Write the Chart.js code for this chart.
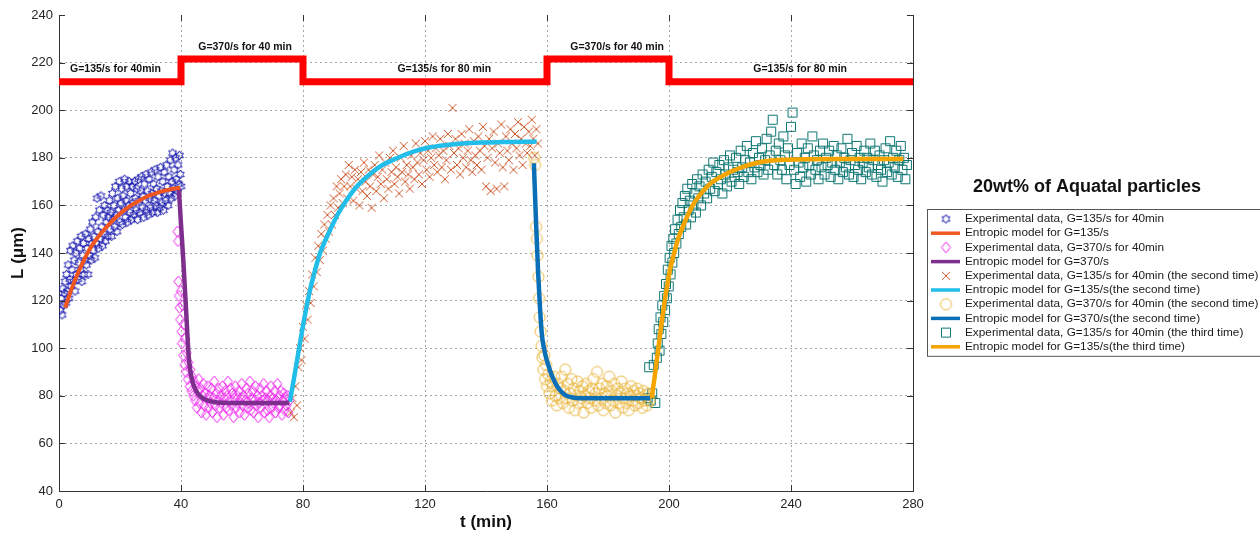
<!DOCTYPE html>
<html>
<head>
<meta charset="utf-8">
<script src="https://cdn.jsdelivr.net/npm/chart.js@4/dist/chart.umd.min.js"></script>
<style>
  html, body { margin: 0; padding: 0; background: #fff; overflow: hidden; }
</style>
</head>
<body>
<canvas id="chart" width="1260" height="539"></canvas>
<script>
// ---- data: [t (min), L (um)] ----
const expBlue = [
  [0.5,116],[0.75,121],[1,114],[1.25,125],[1.5,118],[1.75,123],[2,128],[2.25,119],[2.5,131],[2.75,124],
  [3,135],[3.25,121],[3.5,129],[3.75,141],[4,126],[4.25,133],[4.5,143],[4.75,128],[5,137],[5.25,124],
  [5.5,140],[5.75,131],[6,145],[6.25,129],[6.5,136],[6.75,142],[7,133],[7.25,147],[7.5,128],[7.75,139],
  [8,144],[8.25,131],[8.5,137],[8.75,148],[9,135],[9.25,142],[9.5,131],[9.75,146],[10,139],[10.25,150],
  [10.5,137],[10.75,144],[11,153],[11.25,141],[11.5,147],[11.75,138],[12,155],[12.25,144],[12.5,163],[12.75,149],
  [13,142],[13.25,158],[13.5,146],[13.75,164],[14,151],[14.25,143],[14.5,156],[14.75,148],[15,160],[15.25,145],
  [15.5,153],[15.75,158],[16,147],[16.25,155],[16.5,162],[16.75,150],[17,157],[17.25,147],[17.5,165],[17.75,154],
  [18,160],[18.25,151],[18.5,168],[18.75,156],[19,149],[19.25,163],[19.5,158],[19.75,170],[20,153],[20.25,161],
  [20.5,167],[20.75,152],[21,164],[21.25,158],[21.5,171],[21.75,155],[22,162],[22.25,168],[22.5,153],[22.75,160],
  [23,170],[23.25,157],[23.5,165],[23.75,154],[24,168],[24.25,161],[24.5,156],[24.75,170],[25,163],[25.25,158],
  [25.5,167],[25.75,154],[26,171],[26.25,162],[26.5,157],[26.75,166],[27,172],[27.25,159],[27.5,164],[27.75,155],
  [28,169],[28.25,162],[28.5,173],[28.75,158],[29,166],[29.25,156],[29.5,171],[29.75,163],[30,159],[30.25,174],
  [30.5,165],[30.75,157],[31,169],[31.25,162],[31.5,175],[31.75,160],[32,167],[32.25,157],[32.5,172],[32.75,164],
  [33,159],[33.25,176],[33.5,166],[33.75,161],[34,170],[34.25,158],[34.5,174],[34.75,165],[35,162],[35.25,177],
  [35.5,168],[35.75,160],[36,172],[36.25,165],[36.5,179],[36.75,163],[37,170],[37.25,182],[37.5,167],[37.75,175],
  [38,164],[38.25,180],[38.5,171],[38.75,166],[39,177],[39.25,169],[39.5,181],[39.75,173],[40,168]
];
const modelBlueT = [2, 4, 6, 8, 10, 12, 14, 16, 18, 20, 22, 24, 26, 28, 30, 32, 34, 36, 38, 39.7];
const modelBlueL = [117, 124.5, 131, 136.5, 141.5, 145.3, 148.6, 151.5, 154.2, 156.5, 158.5, 160.3, 161.8, 163.2, 164.3, 165.2, 166, 166.6, 167.1, 167.4];

const expPink = [
  [38.8,149],[39,145],[39.1,128],[39.3,122],[39.5,117],[39.7,112],[39.9,124],[40.1,107],[40.3,102],[40.5,118],
  [40.7,97],[40.9,110],[41.1,93],[41.3,104],[41.6,90],[41.9,98],[42.2,87],[42.5,94],[42.8,84],[43.1,91],
  [43.4,82],[43.7,88],[44,80],[44.3,86],[44.6,78],[44.9,84],[45.2,75],[45.5,82],[45.8,87],[46.1,77],
  [46.4,83],[46.7,73],[47,80],[47.3,85],[47.6,76],[47.9,81],[48.2,72],[48.5,79],[48.8,84],[49.1,75],
  [49.4,80],[49.7,77],[50,83],[50.3,73],[50.6,79],[50.9,86],[51.2,76],[51.5,81],[51.8,71],[52.1,78],
  [52.4,83],[52.7,75],[53,80],[53.3,77],[53.6,84],[53.9,72],[54.2,79],[54.5,82],[54.8,75],[55.1,80],
  [55.4,86],[55.7,74],[56,78],[56.3,83],[56.6,76],[56.9,81],[57.2,71],[57.5,79],[57.8,84],[58.1,75],
  [58.4,80],[58.7,77],[59,82],[59.3,73],[59.6,79],[59.9,85],[60.2,76],[60.5,80],[60.8,72],[61.1,78],
  [61.4,83],[61.7,75],[62,81],[62.3,77],[62.6,86],[62.9,74],[63.2,79],[63.5,82],[63.8,73],[64.1,78],
  [64.4,84],[64.7,76],[65,80],[65.3,71],[65.6,77],[65.9,83],[66.2,75],[66.5,80],[66.8,78],[67.1,85],
  [67.4,73],[67.7,79],[68,82],[68.3,74],[68.6,78],[68.9,71],[69.2,80],[69.5,84],[69.8,75],[70.1,79],
  [70.4,77],[70.7,82],[71,73],[71.3,78],[71.6,85],[71.9,75],[72.2,80],[72.5,76],[72.8,82],[73.1,72],
  [73.4,78],[73.7,81],[74,74],[74.3,79],[74.6,76],[74.9,80],[75.2,73],[75.5,78]
];
const modelPinkT = [39.3, 40, 40.8, 41.5, 42, 42.5, 43, 43.5, 44, 45, 46, 47, 48, 50, 52, 56, 60, 66, 70, 75.5];
const modelPinkL = [167, 152, 136, 120, 108, 97, 91, 87.5, 85, 82, 80.2, 79.1, 78.4, 77.6, 77.2, 77, 77, 77, 77, 77];

const expBrown = [
  [76,73],[76.5,79],[77,71],[77.5,84],[78,76],[78.5,92],[79,100],[79.5,95],[80,109],[80.5,104],
  [81,118],[81.5,112],[82,124],[82.5,119],[83,131],[83.5,126],[84,138],[84.5,132],[85,143],[85.5,137],
  [86,148],[86.5,141],[87,152],[87.5,146],[88,156],[88.5,149],[89,160],[89.5,152],[90,163],[90.5,156],
  [91,168],[91.5,159],[92,165],[92.5,171],[93,161],[93.5,168],[94,173],[94.5,163],[95,177],[95.5,168],
  [96,172],[96.5,162],[97,175],[97.5,167],[98,171],[98.5,160],[99,174],[99.5,166],[100,178],[100.5,170],
  [101,164],[101.5,175],[102,168],[102.5,159],[103,173],[103.5,177],[104,166],[104.5,172],[105,181],[105.5,169],
  [106,175],[106.5,163],[107,178],[107.5,171],[108,167],[108.5,180],[109,174],[109.5,183],[110,169],[110.5,176],
  [111,172],[111.5,165],[112,180],[112.5,174],[113,185],[113.5,170],[114,177],[114.5,173],[115,167],[115.5,181],
  [116,176],[116.5,171],[117,186],[117.5,178],[118,173],[118.5,182],[119,169],[119.5,179],[120,187],[120.5,175],
  [121,183],[121.5,172],[122,180],[122.5,189],[123,177],[123.5,184],[124,174],[124.5,181],[125,188],[125.5,176],
  [126,183],[126.5,171],[127,179],[127.5,190],[128,185],[128.5,175],[129,201],[129.5,182],[130,188],[130.5,177],
  [131,184],[131.5,173],[132,190],[132.5,180],[133,186],[133.5,176],[134,183],[134.5,192],[135,179],[135.5,174],
  [136,187],[136.5,181],[137,177],[137.5,189],[138,183],[138.5,175],[139,193],[139.5,185],[140,168],[140.5,180],
  [141,188],[141.5,166],[142,184],[142.5,191],[143,178],[143.5,167],[144,186],[144.5,182],[145,194],[145.5,176],
  [146,168],[146.5,189],[147,183],[147.5,179],[148,192],[148.5,186],[149,175],[149.5,190],[150,184],[150.5,195],
  [151,181],[151.5,188],[152,177],[152.5,193],[153,186],[153.5,182],[154,191],[154.5,185],[155,196],[155.5,188],
  [156,181],[156.5,192],[157,186]
];
const modelCyanT = [75.7, 77, 79, 80.5, 82.3, 84, 85.6, 88.9, 91.5, 94.3, 97, 99.8, 105.2, 110.7, 116.2, 121.6, 127.1, 132, 138, 145, 152, 156.6];
const modelCyanL = [77.5, 87, 102, 113, 124.5, 133, 140, 149.7, 156.5, 162.3, 167, 170.7, 176.3, 179.8, 182.6, 184.4, 185.4, 186, 186.4, 186.6, 186.7, 186.8];

const expGold = [
  [155.8,180],[156.1,177],[156.4,151],[156.7,146],[156.9,139],[157.2,130],[157.4,121],[157.6,113],[157.9,107],[158.2,101],
  [158.5,96],[158.8,91],[159.1,97],[159.4,87],[159.7,93],[160,84],[160.4,89],[160.8,81],[161.2,86],[161.6,78],
  [162,84],[162.4,88],[162.8,80],[163.2,76],[163.6,85],[164,79],[164.4,83],[164.8,88],[165.2,77],[165.6,82],
  [166,91],[166.4,79],[166.8,85],[167.2,75],[167.6,81],[168,87],[168.4,78],[168.8,83],[169.2,74],[169.6,80],
  [170,86],[170.4,77],[170.8,82],[171.2,79],[171.6,84],[172,73],[172.4,80],[172.8,85],[173.2,77],[173.6,82],
  [174,79],[174.4,75],[174.8,83],[175.2,87],[175.6,78],[176,81],[176.4,90],[176.8,76],[177.2,83],[177.6,79],
  [178,85],[178.4,74],[178.8,81],[179.2,77],[179.6,84],[180,80],[180.4,88],[180.8,76],[181.2,82],[181.6,78],
  [182,85],[182.4,73],[182.8,80],[183.2,83],[183.6,77],[184,81],[184.4,86],[184.8,75],[185.2,79],[185.6,83],
  [186,77],[186.4,81],[186.8,74],[187.2,80],[187.6,84],[188,78],[188.4,82],[188.8,76],[189.2,80],[189.6,83],
  [190,77],[190.4,81],[190.8,79],[191.2,75],[191.6,82],[192,78],[192.4,80],[192.8,76],[193.2,81],[193.6,78]
];
const modelNavyT = [155.7, 156.4, 157.1, 157.7, 158.3, 159, 159.7, 160.4, 161.3, 162.3, 163.3, 164.5, 166, 168, 171, 176, 182, 188, 193.8];
const modelNavyL = [177.7, 153, 131.5, 117, 106, 100, 96, 93, 89.5, 86.5, 84, 82, 80.3, 79.4, 79, 79, 79, 79, 79];

const expTeal = [
  [193,79],[193.5,92],[194,78],[194.5,81],[195,93],[195.5,77],[196,96],[196.3,102],[196.6,108],[196.9,99],
  [197.2,113],[197.5,106],[197.8,118],[198.1,111],[198.4,122],[198.7,116],[199,127],[199.3,121],[199.6,133],[199.9,126],
  [200.2,138],[200.5,131],[200.8,143],[201.1,136],[201.4,146],[201.7,140],[202,150],[202.4,144],[202.8,154],[203.2,148],
  [203.6,158],[204,151],[204.4,161],[204.8,155],[205.2,164],[205.6,152],[206,167],[206.4,158],[206.8,162],[207.2,155],
  [207.6,169],[208,160],[208.4,165],[208.8,157],[209.2,171],[209.6,163],[210,168],[210.5,160],[211,173],[211.5,165],
  [212,170],[212.5,163],[213,175],[213.5,167],[214,172],[214.5,178],[215,166],[215.5,174],[216,169],[216.5,177],
  [217,171],[217.5,165],[218,179],[218.5,173],[219,168],[219.5,176],[220,181],[220.5,170],[221,175],[221.5,172],
  [222,180],[222.5,174],[223,169],[223.5,183],[224,176],[224.5,172],[225,179],[225.5,185],[226,174],[226.5,178],
  [227,171],[227.5,182],[228,176],[228.5,187],[229,174],[229.5,180],[230,177],[230.5,184],[231,173],[231.5,179],
  [232,188],[232.5,175],[233,181],[233.5,191],[234,196],[234.5,177],[235,183],[235.5,173],[236,186],[236.5,179],
  [237,175],[237.5,189],[238,181],[238.5,171],[239,184],[239.5,177],[240,193],[240.5,199],[241,175],[241.5,169],
  [242,182],[242.5,178],[243,172],[243.5,186],[244,176],[244.5,180],[245,170],[245.5,184],[246,177],[246.5,173],
  [247,189],[247.5,181],[248,175],[248.5,179],[249,171],[249.5,183],[250,176],[250.5,186],[251,173],[251.5,180],
  [252,177],[252.5,183],[253,172],[253.5,178],[254,185],[254.5,175],[255,181],[255.5,171],[256,178],[256.5,184],
  [257,174],[257.5,180],[258,176],[258.5,188],[259,173],[259.5,179],[260,182],[260.5,172],[261,177],[261.5,185],
  [262,175],[262.5,180],[263,171],[263.5,178],[264,183],[264.5,174],[265,180],[265.5,176],[266,186],[266.5,173],
  [267,179],[267.5,183],[268,172],[268.5,177],[269,181],[269.5,175],[270,170],[270.5,179],[271,184],[271.5,174],
  [272,178],[272.5,187],[273,173],[273.5,180],[274,176],[274.5,183],[275,172],[275.5,179],[276,185],[276.5,175],
  [277,180],[277.5,171],[278,177]
];
const modelGoldT = [194.3, 195.3, 196.5, 197.5, 198.5, 199.5, 200.5, 201.7, 203, 204.5, 206, 208, 210, 212, 214, 216.7, 219.5, 222.2, 225, 227.6, 230, 233, 238.6, 245, 255, 265, 276.8];
const modelGoldL = [79, 88, 100, 110, 119, 127, 134, 140, 146, 151, 155.5, 160.5, 164.2, 167.2, 169.6, 171.8, 173.7, 175.2, 176.5, 177.5, 178.2, 178.8, 179.2, 179.4, 179.5, 179.5, 179.5];

// shear rate protocol (red step line) and its labels
const stepT = [0, 40, 80, 160, 200, 280];
const stepL = [212, 221.5, 212, 221.5, 212, 212];
const stepText = ['G=135/s for 40min', 'G=370/s for 40 min', 'G=135/s for 80 min', 'G=370/s for 40 min', 'G=135/s for 80 min'];
const stepTextT = [18.5, 61, 126.3, 183, 243];
const stepTextL = [217.3, 226.6, 217.3, 226.6, 217.3];

const legendTitle = '20wt% of Aquatal particles';
const seriesNames = [
  'Experimental data, G=135/s for 40min',
  'Entropic model for G=135/s',
  'Experimental data, G=370/s for 40min',
  'Entropic model for G=370/s',
  'Experimental data, G=135/s for 40min (the second time)',
  'Entropic model for G=135/s(the second time)',
  'Experimental data, G=370/s for 40min (the second time)',
  'Entropic model for G=370/s(the second time)',
  'Experimental data, G=135/s for 40min (the third time)',
  'Entropic model for G=135/s(the third time)'
];

const FONT = "'Liberation Sans', Arial, Helvetica, sans-serif";

// small outlined marker images (matlab-like symbols)
function marker(kind, color, size) {
  const c = document.createElement('canvas');
  c.width = c.height = size + 4;
  const g = c.getContext('2d');
  const m = c.width / 2, r = size / 2;
  g.strokeStyle = color;
  g.lineWidth = 1;
  g.beginPath();
  if (kind === 'hexagram') {
    for (let k = 0; k < 12; k++) {
      const a = -Math.PI / 2 + k * Math.PI / 6;
      const rr = k % 2 ? r * 0.58 : r;
      const px = m + rr * Math.cos(a), py = m + rr * Math.sin(a);
      k ? g.lineTo(px, py) : g.moveTo(px, py);
    }
    g.closePath();
  } else if (kind === 'diamond') {
    g.moveTo(m, m - r); g.lineTo(m + r * 0.8, m); g.lineTo(m, m + r); g.lineTo(m - r * 0.8, m); g.closePath();
  } else if (kind === 'x') {
    g.moveTo(m - r, m - r); g.lineTo(m + r, m + r);
    g.moveTo(m + r, m - r); g.lineTo(m - r, m + r);
  } else if (kind === 'circle') {
    g.arc(m, m, r, 0, Math.PI * 2);
  } else {
    g.rect(m - r + 0.5, m - r + 0.5, size - 1, size - 1);
  }
  g.stroke();
  return c;
}

const pts = (arr) => arr.map(p => ({ x: p[0], y: p[1] }));
const line = (ts, ls) => ts.map((t, i) => ({ x: t, y: ls[i] }));

function scatterSet(label, data, img) {
  return { label, data: pts(data), pointStyle: img, pointRadius: 4, showLine: false, order: 3 };
}
function modelSet(label, data, color, width) {
  return {
    label, data, borderColor: color, backgroundColor: color, borderWidth: width,
    showLine: true, pointRadius: 0, cubicInterpolationMode: 'monotone', order: 1
  };
}

const datasets = [
  scatterSet(seriesNames[0], expBlue, marker('hexagram', '#1c1cb0', 9)),
  modelSet(seriesNames[1], line(modelBlueT, modelBlueL), '#f0561f', 4),
  scatterSet(seriesNames[2], expPink, marker('diamond', '#ee22ee', 11)),
  modelSet(seriesNames[3], line(modelPinkT, modelPinkL), '#7e2f8e', 4.5),
  scatterSet(seriesNames[4], expBrown, marker('x', '#cc5a2c', 8)),
  modelSet(seriesNames[5], line(modelCyanT, modelCyanL), '#22bde8', 4.5),
  scatterSet(seriesNames[6], expGold, marker('circle', '#e8b43a', 11)),
  modelSet(seriesNames[7], line(modelNavyT, modelNavyL), '#0a6fb6', 4.5),
  scatterSet(seriesNames[8], expTeal, marker('square', '#0d7672', 10)),
  modelSet(seriesNames[9], line(modelGoldT, modelGoldL), '#f5a400', 4.5),
  {
    label: '', data: line(stepT, stepL), borderColor: '#ff0000', borderWidth: 7,
    showLine: true, stepped: true, pointRadius: 0, borderJoinStyle: 'miter', order: 0
  }
];

const decor = {
  id: 'decor',
  afterDatasetsDraw(chart) {
    const { ctx, chartArea: a, scales: { x, y } } = chart;
    ctx.save();
    ctx.strokeStyle = '#333';
    ctx.lineWidth = 1;
    ctx.beginPath();
    ctx.moveTo(a.right + 0.5, a.top);
    ctx.lineTo(a.right + 0.5, a.bottom);
    // inward tick marks on all four sides
    y.ticks.forEach(t => {
      const py = Math.round(y.getPixelForValue(t.value)) + 0.5;
      ctx.moveTo(a.left, py); ctx.lineTo(a.left + 6, py);
      ctx.moveTo(a.right, py); ctx.lineTo(a.right - 6, py);
    });
    x.ticks.forEach(t => {
      const px = Math.round(x.getPixelForValue(t.value)) + 0.5;
      ctx.moveTo(px, a.bottom); ctx.lineTo(px, a.bottom - 6);
      ctx.moveTo(px, a.top); ctx.lineTo(px, a.top + 6);
    });
    ctx.stroke();

    ctx.fillStyle = '#111';
    ctx.font = 'bold 10.5px ' + FONT;
    ctx.textAlign = 'center';
    ctx.textBaseline = 'middle';
    stepText.forEach((s, i) => {
      ctx.fillText(s, x.getPixelForValue(stepTextT[i]), y.getPixelForValue(stepTextL[i]));
    });
    ctx.restore();
  },
  afterDraw(chart) {
    const { ctx, chartArea: a } = chart;
    const left = a.right + 14, top = 209, rowH = 14.2;
    const items = chart.data.datasets.filter(d => d.label);
    ctx.save();
    ctx.fillStyle = '#111';
    ctx.textBaseline = 'middle';
    ctx.font = 'bold 18px ' + FONT;
    ctx.textAlign = 'center';
    ctx.fillText(legendTitle, left + 160, 187);

    ctx.strokeStyle = '#555';
    ctx.lineWidth = 1;
    ctx.strokeRect(left + 0.5, top + 0.5, 420, 10 + (items.length - 1) * rowH + 9);

    ctx.font = '11.8px ' + FONT;
    ctx.textAlign = 'left';
    items.forEach((d, i) => {
      const cy = top + 10 + i * rowH;
      if (d.showLine) {
        ctx.strokeStyle = d.borderColor;
        ctx.lineWidth = 3.5;
        ctx.beginPath();
        ctx.moveTo(left + 4, cy); ctx.lineTo(left + 33, cy);
        ctx.stroke();
      } else {
        const img = d.pointStyle;
        ctx.drawImage(img, left + 19 - img.width / 2, cy - img.height / 2);
      }
      ctx.fillStyle = '#1a1a1a';
      ctx.fillText(d.label, left + 38, cy);
    });
    ctx.restore();
  }
};

const tickFont = { family: FONT, size: 13 };
const gridCol = '#a6a6a6';

new Chart(document.getElementById('chart'), {
  type: 'scatter',
  data: { datasets },
  options: {
    responsive: false,
    animation: false,
    layout: { padding: { top: 15, right: 347, bottom: 0, left: 0 } },
    plugins: { legend: { display: false }, tooltip: { enabled: false } },
    scales: {
      x: {
        type: 'linear', min: 0, max: 280,
        ticks: { stepSize: 40, color: '#262626', font: tickFont, padding: 6 },
        grid: { drawTicks: false, color: c => (c.tick && (c.tick.value === 0 || c.tick.value === 280)) ? 'rgba(0,0,0,0)' : gridCol },
        border: { display: true, color: '#333', dash: [2, 3] },
        title: { display: true, text: 't (min)', color: '#111', font: { family: FONT, size: 17, weight: 'bold' }, padding: { top: 4, bottom: 6 } },
        afterFit: s => { s.height = 48; }
      },
      y: {
        type: 'linear', min: 40, max: 240,
        ticks: { stepSize: 20, color: '#262626', font: tickFont, padding: 6 },
        grid: { drawTicks: false, color: c => (c.tick && (c.tick.value === 40 || c.tick.value === 240)) ? 'rgba(0,0,0,0)' : gridCol },
        border: { display: true, color: '#333', dash: [2, 3] },
        title: { display: true, text: 'L (μm)', color: '#111', font: { family: FONT, size: 17, weight: 'bold' }, padding: { top: 8, bottom: 4 } },
        afterFit: s => { s.width = 59; }
      }
    }
  },
  plugins: [decor]
});
</script>
</body>
</html>
